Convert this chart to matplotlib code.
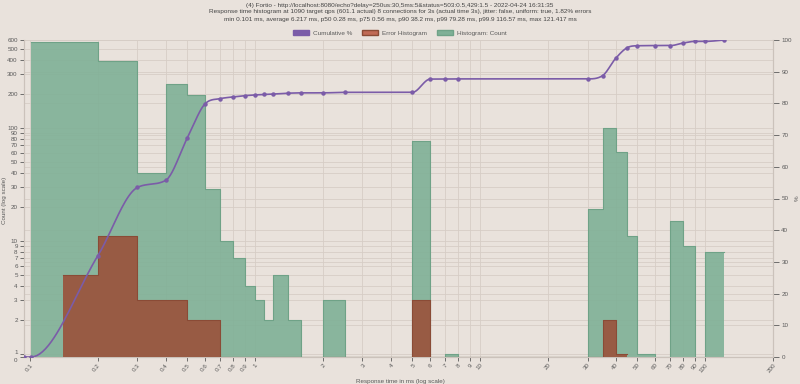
import numpy as np
import matplotlib
matplotlib.use('Agg')
import matplotlib.pyplot as plt
import matplotlib.transforms as mtransforms
from matplotlib.patches import Patch

# histogram buckets, in ms
hist_start = [0.101, 0.2, 0.3, 0.4, 0.5, 0.6, 0.7, 0.8, 0.9, 1.0, 1.1, 1.2, 1.4,
              2.0, 5, 7, 30, 35, 40, 45, 50, 70, 80, 100]
hist_end = [0.2, 0.3, 0.4, 0.5, 0.6, 0.7, 0.8, 0.9, 1.0, 1.1, 1.2, 1.4, 1.6,
            2.5, 6, 8, 35, 40, 45, 50, 60, 80, 90, 121.417]
hist_count = [580, 392, 40, 244, 196, 29, 10, 7, 4, 3, 2, 5, 2,
              3, 76, 1, 19, 99, 61, 11, 1, 15, 9, 8]

# error histogram buckets
err_start = [0.14, 0.2, 0.3, 0.4, 0.5, 0.6, 5, 35, 40]
err_end = [0.2, 0.3, 0.4, 0.5, 0.6, 0.7, 6, 40, 45]
err_count = [5, 11, 3, 3, 2, 2, 3, 2, 1]

x_ticks = [0.1, 0.2, 0.3, 0.4, 0.5, 0.6, 0.7, 0.8, 0.9, 1, 2, 3, 4, 5, 6, 7, 8, 9,
           10, 20, 30, 40, 50, 60, 70, 80, 90, 100, 200]
x_tick_labels = ['0.1', '0.2', '0.3', '0.4', '0.5', '0.6', '0.7', '0.8', '0.9',
                 '1', '2', '3', '4', '5', '6', '7', '8', '9',
                 '10', '20', '30', '40', '50', '60', '70', '80', '90', '100', '200']
y_ticks = [1, 2, 3, 4, 5, 6, 7, 8, 9, 10, 20, 30, 40, 50, 60, 70, 80, 90,
           100, 200, 300, 400, 500, 600]
pct_ticks = [0, 10, 20, 30, 40, 50, 60, 70, 80, 90, 100]

title_lines = [
    '(4) Fortio - http://localhost:8080/echo?delay=250us:30,5ms:5&status=503:0.5,429:1.5 - 2022-04-24 16:31:35',
    'Response time histogram at 1090 target qps (601.1 actual) 8 connections for 3s (actual time 3s), '
    'jitter: false, uniform: true, 1.82% errors',
    'min 0.101 ms, average 6.217 ms, p50 0.28 ms, p75 0.56 ms, p90 38.2 ms, p99 79.28 ms, '
    'p99.9 116.57 ms, max 121.417 ms',
]

BG = '#e9e2dc'
GRID = '#d6cdc6'
GREEN = '#7fb096'
GREEN_EDGE = '#6fa287'
BROWN = '#985b44'
BROWN_EDGE = '#8a4b36'
PURPLE = '#7b5ca8'
TXT = '#5a5a5a'

X_MIN, X_MAX = 0.094, 200
Y_MIN, Y_MAX = 0.941, 600

plt.rcParams['font.family'] = ['Liberation Sans', 'DejaVu Sans']


def step_points(starts, ends, counts):
    """bucket list -> polyline like fortio's chart (zero between gaps)"""
    xs, ys = [], []
    prev = starts[0]
    for s, e, c in zip(starts, ends, counts):
        if s != prev:
            xs += [prev, s]
            ys += [0, 0]
        xs += [s, e]
        ys += [c, c]
        prev = e
    ys = np.array(ys, dtype=float)
    ys[ys <= 0] = Y_MIN  # 0 sits on the bottom of the log axis
    return np.array(xs), ys


def cumulative_points(starts, ends, counts):
    total = float(sum(counts))
    xs = [X_MIN, starts[0]]
    ys = [0.0, 0.0]
    run = 0
    prev = starts[0]
    for i, (s, e, c) in enumerate(zip(starts, ends, counts)):
        if i > 0 and s != prev:
            xs.append(s)
            ys.append(ys[-1])
        run += c
        xs.append(e)
        ys.append(100.0 * run / total)
        prev = e
    return np.array(xs), np.array(ys)


def monotone_curve(x, y, n=24):
    # monotone cubic (like chart.js) drawn in log-x space
    u = np.log10(x)
    d = np.diff(y) / np.diff(u)
    m = np.zeros(len(u))
    m[0], m[-1] = d[0], d[-1]
    for k in range(1, len(u) - 1):
        m[k] = 0 if d[k - 1] * d[k] <= 0 else (d[k - 1] + d[k]) / 2
    for k in range(len(d)):
        if d[k] == 0:
            m[k] = m[k + 1] = 0
            continue
        a, b = m[k] / d[k], m[k + 1] / d[k]
        s = a * a + b * b
        if s > 9:
            t = 3 / np.sqrt(s)
            m[k], m[k + 1] = t * a * d[k], t * b * d[k]
    uu, yy = [], []
    for k in range(len(d)):
        h = u[k + 1] - u[k]
        t = np.linspace(0, 1, n)
        h00 = 2 * t**3 - 3 * t**2 + 1
        h10 = t**3 - 2 * t**2 + t
        h01 = -2 * t**3 + 3 * t**2
        h11 = t**3 - t**2
        uu.append(u[k] + t * h)
        yy.append(h00 * y[k] + h10 * h * m[k] + h01 * y[k + 1] + h11 * h * m[k + 1])
    return 10 ** np.concatenate(uu), np.concatenate(yy)


fig = plt.figure(figsize=(8, 3.84), dpi=100, facecolor=BG)
ax = fig.add_axes([24 / 800, 27 / 384, 749 / 800, 317 / 384])
ax.set_xscale('log')
ax.set_yscale('log')
ax.set_xlim(X_MIN, X_MAX)
ax.set_ylim(Y_MIN, Y_MAX)

# right % axis sits behind the main one so its grid stays under the bars
ax2 = ax.twinx()
ax2.set_ylim(0, 100)
ax.set_zorder(2)
ax2.set_zorder(1)
ax.patch.set_visible(False)
ax2.patch.set_visible(True)
ax2.patch.set_facecolor(BG)

# grid
ax.set_xticks(x_ticks)
ax.set_xticklabels(x_tick_labels)
ax.set_xticks([], minor=True)
ax.set_yticks([Y_MIN] + y_ticks)
ax.set_yticklabels(['0'] + [str(v) for v in y_ticks])
ax.set_yticks([], minor=True)
ax.grid(True, color=GRID, lw=0.6, zorder=0)
ax2.set_yticks(pct_ticks)
ax2.grid(True, color=GRID, lw=0.6)
ax.set_axisbelow(True)

# histograms
hx, hy = step_points(hist_start, hist_end, hist_count)
ax.fill_between(hx, Y_MIN, hy, color=GREEN, lw=0, alpha=0.9, zorder=2)
ax.plot(hx, hy, color=GREEN_EDGE, lw=0.8, zorder=3)

ex, ey = step_points(err_start, err_end, err_count)
ax.fill_between(ex, Y_MIN, ey, color=BROWN, lw=0, zorder=4)
ax.plot(ex, ey, color=BROWN_EDGE, lw=0.8, zorder=5)

# cumulative % (drawn on the front axes, in % coordinates)
cx, cy = cumulative_points(hist_start, hist_end, hist_count)
sx, sy = monotone_curve(cx, cy)
ax.plot(sx, sy, color=PURPLE, lw=1.2, zorder=6, transform=ax2.transData)
ax.plot(cx, cy, 'o', color=PURPLE, ms=2.2, zorder=7, transform=ax2.transData)

for a in (ax, ax2):
    for sp in a.spines.values():
        sp.set_color('#cbc2bb')
        sp.set_linewidth(0.8)
ax.spines['top'].set_visible(False)
ax2.spines['top'].set_visible(False)

ax.tick_params(axis='x', labelsize=4.5, colors=TXT, length=3, width=0.6, pad=1)
ax.tick_params(axis='y', labelsize=4.5, colors=TXT, length=3, width=0.6, pad=1.5)
ax2.tick_params(axis='y', labelsize=4.5, colors=TXT, length=4, width=0.6, pad=2)
for lab in ax.get_xticklabels():
    lab.set_rotation(50)
    lab.set_ha('right')
    lab.set_rotation_mode('anchor')

# "0" and "1" sit almost on top of each other, pull them apart a little
ylabs = ax.get_yticklabels()
ylabs[0].set_transform(ylabs[0].get_transform() +
                       mtransforms.ScaledTranslation(0, -2.5 / 100, fig.dpi_scale_trans))
ylabs[1].set_transform(ylabs[1].get_transform() +
                       mtransforms.ScaledTranslation(0, 2.5 / 100, fig.dpi_scale_trans))

fig.text(5 / 800, 1 - 200 / 384, 'Count (log scale)', rotation=90, fontsize=4.5,
         color=TXT, ha='center', va='center')
fig.text(797 / 800, 1 - 198 / 384, '%', rotation=90, fontsize=4.5,
         color=TXT, ha='center', va='center')
fig.text(0.5, 1 - 381 / 384, 'Response time in ms (log scale)', fontsize=4.5,
         color=TXT, ha='center', va='center')

for i, line in enumerate(title_lines):
    fig.text(0.5, 1 - (5 + 7 * i) / 384, line, fontsize=4.6, color='#444444',
             ha='center', va='center')

handles = [Patch(facecolor=PURPLE, edgecolor=PURPLE),
           Patch(facecolor='#c06a55', edgecolor=BROWN_EDGE),
           Patch(facecolor=GREEN, edgecolor=GREEN_EDGE)]
fig.legend(handles, ['Cumulative %', 'Error Histogram', 'Histogram: Count'],
           loc='center', bbox_to_anchor=(0.5, 1 - 33 / 384), ncol=3, frameon=False,
           fontsize=4.6, handlelength=2.5, handleheight=0.9, columnspacing=1.6,
           handletextpad=0.6, labelcolor=TXT)

fig.savefig('out.png', dpi=100, facecolor=BG)
